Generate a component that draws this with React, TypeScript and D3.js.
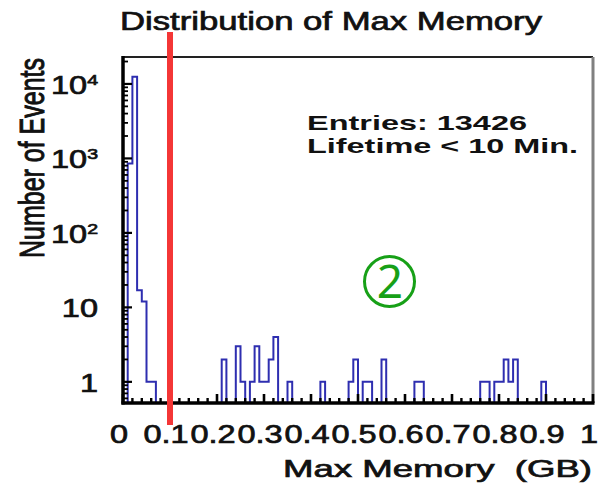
import * as d3 from "d3";

// ── Data ──────────────────────────────────────────────────────────────────────
// 100 bins of 0.01 GB from 0 to 1 GB
const BIN_WIDTH = 0.01;
const BIN_COUNTS = [
  0, 856, 12500, 17, 12, 1, 1, 0, 0, 0,
  0, 0, 0, 0, 0, 0, 0, 0, 0, 0,
  0, 2, 0, 0, 3, 1, 0, 1, 3, 1,
  1, 2, 4, 0, 0, 1, 0, 0, 0, 0,
  0, 0, 1, 0, 0, 0, 0, 0, 1, 2,
  0, 1, 1, 0, 0, 2, 0, 0, 0, 0,
  0, 0, 1, 1, 0, 0, 0, 0, 0, 0,
  0, 0, 0, 0, 0, 0, 1, 1, 0, 1,
  1, 2, 1, 2, 0, 0, 0, 0, 0, 1,
  0, 0, 0, 0, 0, 0, 0, 0, 0, 0,
];

const X_TICKS = [0, 0.1, 0.2, 0.3, 0.4, 0.5, 0.6, 0.7, 0.8, 0.9, 1];
const X_TICK_LABELS = ["0", "0.1", "0.2", "0.3", "0.4", "0.5", "0.6", "0.7", "0.8", "0.9", "1"];
const Y_TICKS = [1, 10, 100, 1000, 10000];
const Y_TICK_BASES = ["1", "10", "10", "10", "10"];
const Y_TICK_EXPS = ["", "", "2", "3", "4"];

const CUT_VALUE = 0.1;
const TITLE = "Distribution of Max Memory";
const X_TITLE = "Max Memory\u00a0\u00a0(GB)";
const Y_TITLE = "Number of Events";
const STATS_LINES = ["Entries: 13426", "Lifetime < 10 Min."];
const MARKER = "2";

// ── Layout ────────────────────────────────────────────────────────────────────
const W = 600;
const H = 483;
const F = { left: 123, right: 593, top: 57, bottom: 403 };
const SX = 1.3; // the source picture is stretched horizontally
const FONT = "'Liberation Sans', Arial, Helvetica, sans-serif";
const INK = "#111";
const HIST = "#2e2eb0";
const RED = "#f43636";
const GREEN = "#17a017";

// slight outline so the text has the weight of the blurred original
const heavy = { fill: INK, stroke: INK, strokeWidth: 0.7 };

export default function App() {
  const x = d3.scaleLinear().domain([0, 1]).range([F.left, F.right]);
  const y = d3.scaleLog().domain([0.52, 23000]).range([F.bottom, F.top]).clamp(true);

  // step outline of histogram
  const pts: [number, number][] = [[x(0), F.bottom]];
  BIN_COUNTS.forEach((c, i) => {
    const yy = c > 0 ? y(c) : F.bottom;
    pts.push([x(i * BIN_WIDTH), yy]);
    pts.push([x((i + 1) * BIN_WIDTH), yy]);
  });
  pts.push([x(1), F.bottom]);
  const histPath = d3.line()(pts) ?? "";

  // log minor ticks
  const yMinor: number[] = [];
  [0.1, 1, 10, 100, 1000, 10000].forEach((d) => {
    for (let m = 2; m <= 9; m++) {
      const v = d * m;
      if (v >= 0.52 && v <= 23000) yMinor.push(v);
    }
  });
  const xMinor = d3.range(0, 1.0001, 0.02).filter((v) => Math.abs(v * 10 - Math.round(v * 10)) > 1e-6);

  return (
    <div style={{ position: "absolute", left: 0, top: 0 }}>
      <svg width={W} height={H} style={{ display: "block", background: "#fff" }} fontFamily={FONT}>
        {/* title */}
        <text x={120} y={30} fontSize={25} {...heavy} textLength={422} lengthAdjust="spacingAndGlyphs">
          {TITLE}
        </text>

        {/* histogram */}
        <path d={histPath} fill="none" stroke={HIST} strokeWidth={2} strokeLinejoin="miter" />

        {/* frame: top & right */}
        <line x1={F.left} x2={F.right} y1={F.top} y2={F.top} stroke="#222" strokeWidth={2} />
        <line x1={F.right} x2={F.right} y1={F.top} y2={F.bottom} stroke="#808080" strokeWidth={3} />

        {/* y axis */}
        <line x1={F.left} x2={F.left} y1={F.top - 1} y2={F.bottom + 1.5} stroke="#000" strokeWidth={3.5} />
        {Y_TICKS.map((v) => (
          <line key={`ym${v}`} x1={F.left} x2={F.left + 9} y1={y(v)} y2={y(v)} stroke="#000" strokeWidth={2.2} />
        ))}
        {yMinor.map((v) => (
          <line key={`yn${v}`} x1={F.left} x2={F.left + 5} y1={y(v)} y2={y(v)} stroke="#000" strokeWidth={1.8} />
        ))}
        {Y_TICKS.map((v, i) => (
          <g key={`yl${v}`} transform={`translate(98,${y(v) + 10}) scale(${SX},1)`}>
            <text textAnchor="end" fontSize={25} {...heavy}>
              {Y_TICK_BASES[i]}
              {Y_TICK_EXPS[i] && (
                <tspan dy={-9} fontSize={15}>
                  {Y_TICK_EXPS[i]}
                </tspan>
              )}
            </text>
          </g>
        ))}
        <g transform={`translate(44,258) scale(1.4,1) rotate(-90)`}>
          <text fontSize={25} {...heavy} textLength={200} lengthAdjust="spacingAndGlyphs">
            {Y_TITLE}
          </text>
        </g>

        {/* x axis */}
        <line x1={F.left - 1.5} x2={F.right + 1.5} y1={F.bottom} y2={F.bottom} stroke="#000" strokeWidth={3.5} />
        {X_TICKS.map((v) => (
          <line key={`xm${v}`} x1={x(v)} x2={x(v)} y1={F.bottom} y2={F.bottom - 9} stroke="#000" strokeWidth={2.6} />
        ))}
        {xMinor.map((v) => (
          <line key={`xn${v}`} x1={x(v)} x2={x(v)} y1={F.bottom} y2={F.bottom - 5} stroke="#000" strokeWidth={2.4} />
        ))}
        {X_TICKS.map((v, i) => (
          <g key={`xl${v}`} transform={`translate(${x(v) - 4},443) scale(${SX},1)`}>
            <text textAnchor="middle" fontSize={25} {...heavy}>
              {X_TICK_LABELS[i]}
            </text>
          </g>
        ))}
        <text x={283} y={477} fontSize={24} {...heavy} textLength={309} lengthAdjust="spacingAndGlyphs">
          {X_TITLE}
        </text>

        {/* stats text */}
        <text x={307} y={130} fontSize={21} fontWeight="bold" fill={INK} textLength={220} lengthAdjust="spacingAndGlyphs">
          {STATS_LINES[0]}
        </text>
        <text x={307} y={153} fontSize={21} fontWeight="bold" fill={INK} textLength={271} lengthAdjust="spacingAndGlyphs">
          {STATS_LINES[1]}
        </text>

        {/* cut line */}
        <line x1={x(CUT_VALUE)} x2={x(CUT_VALUE)} y1={32} y2={425} stroke={RED} strokeWidth={6} />

        {/* circled marker */}
        <circle cx={389.5} cy={281.5} r={25} fill="none" stroke={GREEN} strokeWidth={3} />
        <text x={390} y={298} textAnchor="middle" fontSize={46} fill={GREEN} fontFamily="'Noto Sans', 'Open Sans', sans-serif">
          {MARKER}
        </text>
      </svg>
    </div>
  );
}
